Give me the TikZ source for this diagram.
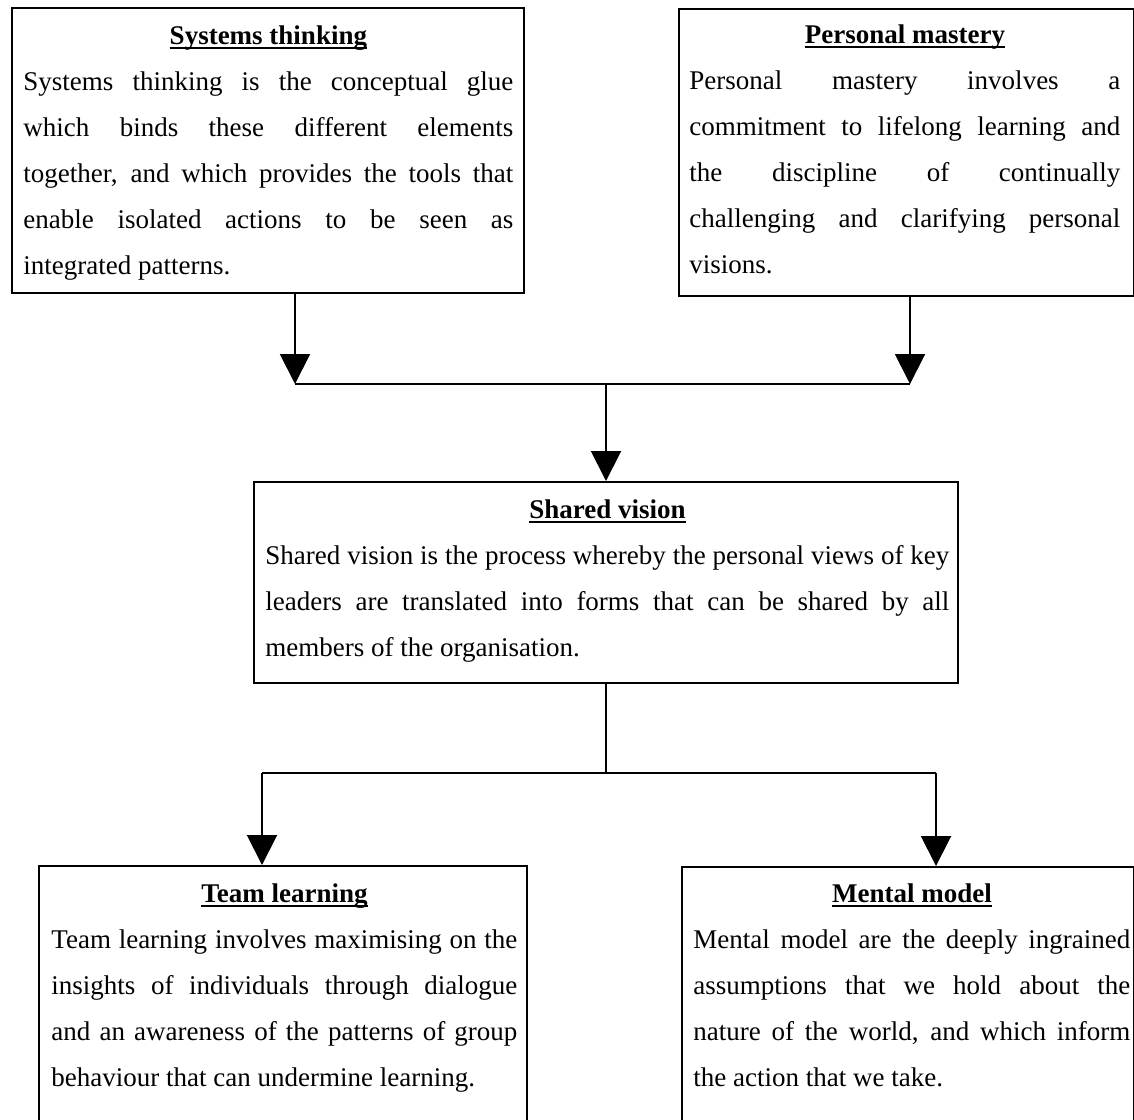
\documentclass[tikz,border=0pt]{standalone}
\usepackage{fontspec}
\setmainfont{Liberation Serif}
\usetikzlibrary{arrows.meta}
\newcommand{\ulbf}[1]{\setbox0\hbox{\bfseries #1}\rlap{\rule[-2.4pt]{\wd0}{0.8pt}}\box0}
\newcommand{\tline}[1]{\makebox[\linewidth]{\ulbf{#1}}\par}
\newcommand{\jline}[1]{\makebox[\linewidth][s]{#1}\par}
\newcommand{\lline}[1]{\noindent #1\par}
\newcommand{\boxfont}{\fontsize{13.5pt}{23pt}\selectfont\lineskiplimit=-100pt\lineskip=0pt\parskip=0pt\parindent=0pt}
\tikzset{
  box/.style={draw, line width=1pt, rectangle, inner sep=0pt, anchor=north west},
  txt/.style={inner sep=0pt, anchor=base west},
  conn/.style={line width=1pt},
  arr/.style={line width=1pt, -{Triangle[width=15pt,length=15pt]}},
}
\begin{document}
\begin{tikzpicture}[x=0.5pt, y=-0.5pt]
\useasboundingbox[fill=white] (0,0) rectangle (1134,1119);
% boxes
\node[box, minimum width=256pt, minimum height=142.5pt] (st) at (11,7) {};
\node[box, minimum width=227.5pt, minimum height=143.5pt] (pm) at (678,8) {};
\node[box, minimum width=352pt, minimum height=100.5pt] (sv) at (253,481) {};
\node[box, minimum width=244pt, minimum height=140pt] (tl) at (38,865) {};
\node[box, minimum width=226pt, minimum height=140pt] (mm) at (681,866) {};
% texts
\node[txt] (stt) at (23,44) {\parbox[t]{245pt}{\boxfont
  \tline{Systems thinking}
  \jline{Systems thinking is the conceptual glue}
  \jline{which binds these different elements}
  \jline{together, and which provides the tools that}
  \jline{enable isolated actions to be seen as}
  \lline{integrated patterns.}}};
\node[txt] (pmt) at (689,43) {\parbox[t]{215.5pt}{\boxfont
  \tline{Personal mastery}
  \jline{Personal mastery involves a}
  \jline{commitment to lifelong learning and}
  \jline{the discipline of continually}
  \jline{challenging and clarifying personal}
  \lline{visions.}}};
\node[txt] (svt) at (265,518) {\parbox[t]{342pt}{\boxfont
  \tline{Shared vision}
  \jline{Shared vision is the process whereby the personal views of key}
  \jline{leaders are translated into forms that can be shared by all}
  \lline{members of the organisation.}}};
\node[txt] (tlt) at (51,902) {\parbox[t]{233pt}{\boxfont
  \tline{Team learning}
  \jline{Team learning involves maximising on the}
  \jline{insights of individuals through dialogue}
  \jline{and an awareness of the patterns of group}
  \lline{behaviour that can undermine learning.}}};
\node[txt] (mmt) at (693,902) {\parbox[t]{218.5pt}{\boxfont
  \tline{Mental model}
  \jline{Mental model are the deeply ingrained}
  \jline{assumptions that we hold about the}
  \jline{nature of the world, and which inform}
  \lline{the action that we take.}}};
% junctions
\coordinate (jl) at (295,384);
\coordinate (jr) at (910,384);
\coordinate (jm) at (sv.north |- jl);
\coordinate (bm) at (sv.south |- 0,773);
\coordinate (bl) at (262,773);
\coordinate (br) at (936,773);
% connectors
\draw[arr] (st.south -| jl) -- (jl);
\draw[arr] (pm.south -| jr) -- (jr);
\draw[conn] (jl) -- (jr);
\draw[arr] (jm) -- (sv.north);
\draw[conn] (sv.south) -- (bm);
\draw[conn] (bl) -- (br);
\draw[arr] (bl) -- (bl |- tl.north);
\draw[arr] (br) -- (br |- mm.north);
\end{tikzpicture}
\end{document}
